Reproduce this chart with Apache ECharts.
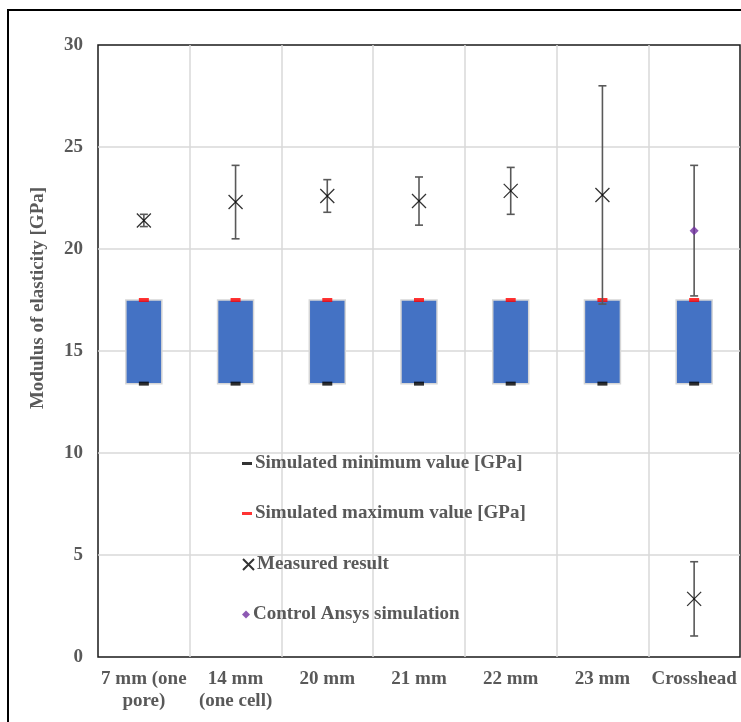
<!DOCTYPE html>
<html>
<head>
<meta charset="utf-8">
<script src="https://cdn.jsdelivr.net/npm/echarts@6/dist/echarts.min.js"></script>
<style>
  html, body { margin: 0; padding: 0; background: #fff; }
  #chart { width: 741px; height: 722px; }
</style>
</head>
<body>
<div id="chart"></div>
<script>
// Specimen groups along the x axis
const categories = ['7 mm (one\npore)', '14 mm\n(one cell)', '20 mm', '21 mm', '22 mm', '23 mm', 'Crosshead'];

// Simulated range of the modulus [GPa]
const simMin = [13.4, 13.4, 13.4, 13.4, 13.4, 13.4, 13.4];
const simMax = [17.5, 17.5, 17.5, 17.5, 17.5, 17.5, 17.5];

// Measured modulus and its spread [GPa]
const measured    = [21.4, 22.3, 22.6, 22.35, 22.85, 22.65, 2.85];
const measuredErr = [0.3, 1.8, 0.8, 1.18, 1.15, 5.35, 1.82];

// Control Ansys simulation (crosshead only) [GPa]
const ansys    = [null, null, null, null, null, null, 20.9];
const ansysErr = [null, null, null, null, null, null, 3.2];

const yTicks = { min: 0, max: 30, step: 5 };

const NAME_MIN = 'Simulated minimum value [GPa]';
const NAME_MAX = 'Simulated maximum value [GPa]';
const NAME_MEAS = 'Measured result';
const NAME_ANSYS = 'Control Ansys simulation';

const FONT = 'Liberation Serif';
const FONT_SIZE = 19;
const TEXT_GRAY = '#595959';
const X_SYMBOL = 'path://M0,0L10,10M10,0L0,10';

const chart = echarts.init(document.getElementById('chart'), null, { renderer: 'canvas' });

// Vertical error bar with end caps, from value - err to value + err
function errorBarItem(params, api) {
  const x = api.value(0);
  const v = api.value(1);
  const e = api.value(2);
  const top = api.coord([x, v + e]);
  const bot = api.coord([x, v - e]);
  const cap = 4;
  const st = { stroke: '#595959', lineWidth: 1.6 };
  return {
    type: 'group',
    children: [
      { type: 'line', shape: { x1: top[0], y1: top[1], x2: bot[0], y2: bot[1] }, style: st },
      { type: 'line', shape: { x1: top[0] - cap, y1: top[1], x2: top[0] + cap, y2: top[1] }, style: st },
      { type: 'line', shape: { x1: bot[0] - cap, y1: bot[1], x2: bot[0] + cap, y2: bot[1] }, style: st }
    ]
  };
}

// Floating box spanning the simulated min..max range
function boxItem(params, api) {
  const x = api.value(0);
  const lo = api.coord([x, api.value(1)]);
  const hi = api.coord([x, api.value(2)]);
  const w = 36;
  return {
    type: 'rect',
    shape: { x: lo[0] - w / 2, y: hi[1], width: w, height: lo[1] - hi[1] },
    style: { fill: '#4472C4', stroke: '#D6D6D6', lineWidth: 1.5 }
  };
}

const legendBase = {
  orient: 'vertical',
  left: 237,
  itemGap: 0,
  textStyle: { fontFamily: FONT, fontWeight: 'bold', fontSize: FONT_SIZE, color: TEXT_GRAY, padding: [0, 0, 0, -2] },
  selectedMode: false
};

const option = {
  animation: false,
  backgroundColor: '#fff',
  grid: {
    left: 98, top: 45, right: 1, bottom: 65,
    show: true, borderColor: '#1a1a1a', borderWidth: 1.5, backgroundColor: 'transparent'
  },
  legend: [
    Object.assign({}, legendBase, { top: 449, itemWidth: 10, itemHeight: 3, data: [{ name: NAME_MIN, icon: 'rect' }] }),
    Object.assign({}, legendBase, { top: 499, itemWidth: 10, itemHeight: 3, data: [{ name: NAME_MAX, icon: 'rect' }] }),
    Object.assign({}, legendBase, { top: 550, itemWidth: 11, itemHeight: 11, data: [{ name: NAME_MEAS, icon: X_SYMBOL }] }),
    Object.assign({}, legendBase, { top: 600, itemWidth: 8, itemHeight: 8, data: [{ name: NAME_ANSYS, icon: 'diamond' }] })
  ],
  xAxis: {
    type: 'category',
    data: categories,
    axisTick: { show: false },
    axisLine: { show: false },
    axisLabel: {
      interval: 0, margin: 11, lineHeight: 22,
      fontFamily: FONT, fontWeight: 'bold', fontSize: FONT_SIZE, color: TEXT_GRAY
    },
    splitLine: { show: true, showMinLine: false, showMaxLine: false, lineStyle: { color: '#D9D9D9', width: 1.5 } }
  },
  yAxis: {
    type: 'value',
    min: yTicks.min, max: yTicks.max, interval: yTicks.step,
    axisTick: { show: false },
    axisLine: { show: false },
    axisLabel: { margin: 15, fontFamily: FONT, fontWeight: 'bold', fontSize: FONT_SIZE, color: TEXT_GRAY },
    splitLine: { show: true, showMinLine: false, showMaxLine: false, lineStyle: { color: '#D9D9D9', width: 1.5 } }
  },
  graphic: [
    {
      type: 'rect', z: 100, silent: true,
      shape: { x: 8, y: 10, width: 800, height: 800 },
      style: { fill: 'none', stroke: '#000', lineWidth: 2 }
    },
    {
      type: 'text', z: 100, silent: true,
      x: 38, y: 298, rotation: Math.PI / 2,
      style: {
        text: 'Modulus of elasticity [GPa]',
        font: 'bold 19px "Liberation Serif"', fill: TEXT_GRAY,
        align: 'center', verticalAlign: 'middle'
      }
    }
  ],
  series: [
    {
      name: 'Simulated range',
      type: 'custom',
      renderItem: boxItem,
      data: categories.map((c, i) => [i, simMin[i], simMax[i]]),
      z: 2
    },
    {
      name: NAME_MIN,
      type: 'scatter',
      symbol: 'rect', symbolSize: [10, 4],
      itemStyle: { color: '#000' },
      data: simMin.map((v, i) => [i, v]),
      z: 3
    },
    {
      name: NAME_MAX,
      type: 'scatter',
      symbol: 'rect', symbolSize: [10, 4],
      itemStyle: { color: '#FF0000' },
      data: simMax.map((v, i) => [i, v]),
      z: 3
    },
    {
      name: 'Measured spread',
      type: 'custom',
      renderItem: errorBarItem,
      data: measured.map((v, i) => [i, v, measuredErr[i]]),
      z: 4
    },
    {
      name: 'Ansys spread',
      type: 'custom',
      renderItem: errorBarItem,
      data: ansys.map((v, i) => [i, v, ansysErr[i]]).filter(d => d[1] !== null),
      z: 4
    },
    {
      name: NAME_MEAS,
      type: 'scatter',
      symbol: X_SYMBOL, symbolSize: 14,
      itemStyle: { color: 'rgba(0,0,0,0)', borderColor: '#000', borderWidth: 1.3 },
      data: measured.map((v, i) => [i, v]),
      z: 5
    },
    {
      name: NAME_ANSYS,
      type: 'scatter',
      symbol: 'diamond', symbolSize: 9,
      itemStyle: { color: '#7030A0' },
      data: ansys.map((v, i) => [i, v]).filter(d => d[1] !== null),
      z: 5
    }
  ]
};

chart.setOption(option);
</script>
</body>
</html>
